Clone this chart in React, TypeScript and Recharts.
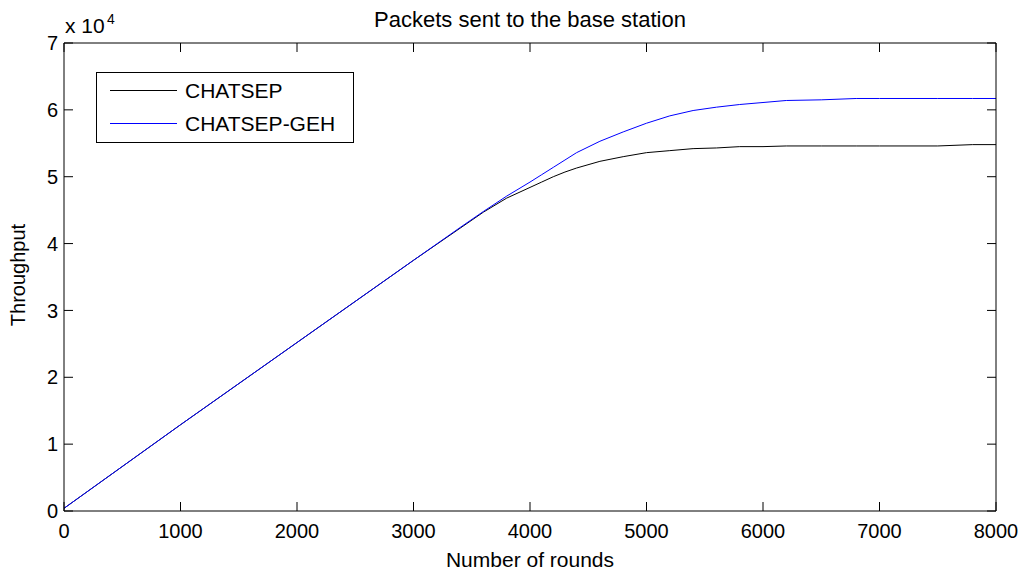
import React from 'react';
import { LineChart, Line, XAxis, YAxis, Legend } from 'recharts';

const rounds = [0, 1000, 2000, 3000, 3400, 3600, 3800, 4000, 4100, 4200, 4300, 4400, 4600, 4800, 5000, 5200, 5400, 5600, 5800, 6000, 6200, 6500, 6800, 7000, 7500, 7800, 8000];
const chatsep = [400, 12900, 25200, 37500, 42300, 44700, 46800, 48400, 49200, 50000, 50700, 51300, 52300, 53000, 53600, 53900, 54200, 54300, 54500, 54500, 54600, 54600, 54600, 54600, 54600, 54800, 54800];
const chatsepGeh = [400, 12900, 25200, 37500, 42400, 44800, 47100, 49200, 50300, 51400, 52500, 53600, 55300, 56700, 58000, 59100, 59900, 60400, 60800, 61100, 61400, 61500, 61700, 61700, 61700, 61700, 61700];

const xTicks = [0, 1000, 2000, 3000, 4000, 5000, 6000, 7000, 8000];
const yTicks = [0, 10000, 20000, 30000, 40000, 50000, 60000, 70000];

const titleText = 'Packets sent to the base station';
const xLabelText = 'Number of rounds';
const yLabelText = 'Throughput';
const seriesNames = ['CHATSEP', 'CHATSEP-GEH'];
const seriesColors = ['#000000', '#0000FF'];

const data = rounds.map((r, i) => ({ round: r, a: chatsep[i], b: chatsepGeh[i] }));

const FONT = '"Liberation Sans", Arial, Helvetica, sans-serif';
const TICK_LEN = 9;
const X_MARGIN = 13;
const Y_MARGIN = 6;

const BottomTick = (p: any) => {
  const axisY = p.y - X_MARGIN;
  return (
    <g>
      <line x1={p.x} x2={p.x} y1={axisY} y2={axisY - TICK_LEN} stroke="#000" strokeWidth={1} />
      <text x={p.x} y={p.y} dy="0.71em" textAnchor="middle" fill="#000" fontSize={20} fontFamily={FONT}>
        {p.payload.value}
      </text>
    </g>
  );
};

const TopTick = (p: any) => (
  <line x1={p.x} x2={p.x} y1={p.y} y2={p.y + TICK_LEN} stroke="#000" strokeWidth={1} />
);

const LeftTick = (p: any) => {
  const axisX = p.x + Y_MARGIN;
  return (
    <g>
      <line x1={axisX} x2={axisX + TICK_LEN} y1={p.y} y2={p.y} stroke="#000" strokeWidth={1} />
      <text x={p.x} y={p.y} dy="0.355em" textAnchor="end" fill="#000" fontSize={20} fontFamily={FONT}>
        {String(p.payload.value / 10000)}
      </text>
    </g>
  );
};

const RightTick = (p: any) => (
  <line x1={p.x} x2={p.x - TICK_LEN} y1={p.y} y2={p.y} stroke="#000" strokeWidth={1} />
);

const LegendBox = () => (
  <div
    style={{
      border: '1px solid #000',
      background: '#fff',
      width: 256,
      height: 69,
      boxSizing: 'content-box',
      position: 'relative',
      fontFamily: FONT,
      fontSize: 21,
      color: '#000',
    }}
  >
    {seriesNames.map((name, i) => (
      <div key={i} style={{ position: 'absolute', left: 0, top: 6 + i * 33, height: 24, width: 256 }}>
        <svg width={70} height={24} style={{ position: 'absolute', left: 12, top: 0 }}>
          <line x1={1} x2={68} y1={11.5} y2={11.5} stroke={seriesColors[i]} strokeWidth={1} />
        </svg>
        <div style={{ position: 'absolute', left: 88, top: 0, lineHeight: '24px', whiteSpace: 'nowrap' }}>{name}</div>
      </div>
    ))}
  </div>
);

export default function App() {
  return (
    <div style={{ width: 1011, height: 565 }}>
      <LineChart width={1011} height={565} data={data} margin={{ top: 34, right: 22, left: 0, bottom: 0 }}>
        <XAxis
          xAxisId="bottom"
          dataKey="round"
          type="number"
          domain={[0, 8000]}
          ticks={xTicks}
          allowDataOverflow
          height={62}
          stroke="#000"
          tickLine={false}
          tickSize={0}
          tickMargin={X_MARGIN}
          tick={BottomTick}
          interval={0}
          label={{
            content: (p: any) => {
              const vb = p.viewBox;
              return (
                <text x={vb.x + vb.width / 2} y={vb.y + 56} textAnchor="middle" fill="#000" fontSize={21} fontFamily={FONT}>
                  {xLabelText}
                </text>
              );
            },
          }}
        />
        <XAxis
          xAxisId="top"
          orientation="top"
          dataKey="round"
          type="number"
          domain={[0, 8000]}
          ticks={xTicks}
          allowDataOverflow
          height={1}
          stroke="#000"
          tickLine={false}
          tickSize={0}
          tickMargin={0}
          tick={TopTick}
          interval={0}
          label={{
            content: (p: any) => {
              const vb = p.viewBox;
              const top = vb.y + vb.height;
              return (
                <g>
                  <text x={vb.x + vb.width / 2} y={top - 16} textAnchor="middle" fill="#000" fontSize={22} fontFamily={FONT}>
                    {titleText}
                  </text>
                  <text x={vb.x + 1} y={top - 10} textAnchor="start" fill="#000" fontSize={21} fontFamily={FONT}>
                    x 10
                  </text>
                  <text x={vb.x + 43} y={top - 19} textAnchor="start" fill="#000" fontSize={14} fontFamily={FONT}>
                    4
                  </text>
                </g>
              );
            },
          }}
        />
        <YAxis
          yAxisId="left"
          type="number"
          domain={[0, 70000]}
          ticks={yTicks}
          allowDataOverflow
          width={56}
          stroke="#000"
          tickLine={false}
          tickSize={0}
          tickMargin={Y_MARGIN}
          tick={LeftTick}
          interval={0}
          label={{
            content: (p: any) => {
              const vb = p.viewBox;
              const cx = 17;
              const cy = vb.y + vb.height / 2 - 2;
              return (
                <text x={cx} y={cy} transform={`rotate(-90 ${cx} ${cy})`} textAnchor="middle" fill="#000" fontSize={20} fontFamily={FONT}>
                  {yLabelText}
                </text>
              );
            },
          }}
        />
        <YAxis
          yAxisId="right"
          orientation="right"
          type="number"
          domain={[0, 70000]}
          ticks={yTicks}
          allowDataOverflow
          width={1}
          stroke="#000"
          tickLine={false}
          tickSize={0}
          tickMargin={0}
          tick={RightTick}
          interval={0}
        />
        <Legend
          layout="vertical"
          align="center"
          verticalAlign="middle"
          content={<LegendBox />}
          wrapperStyle={{ position: 'absolute', left: 88, top: 64, width: 258, height: 71, margin: 0 }}
        />
        <Line
          xAxisId="bottom"
          yAxisId="left"
          dataKey="a"
          name={seriesNames[0]}
          type="linear"
          stroke={seriesColors[0]}
          strokeWidth={1}
          dot={false}
          activeDot={false}
          isAnimationActive={false}
        />
        <Line
          xAxisId="bottom"
          yAxisId="left"
          dataKey="b"
          name={seriesNames[1]}
          type="linear"
          stroke={seriesColors[1]}
          strokeWidth={1}
          dot={false}
          activeDot={false}
          isAnimationActive={false}
        />
      </LineChart>
    </div>
  );
}
